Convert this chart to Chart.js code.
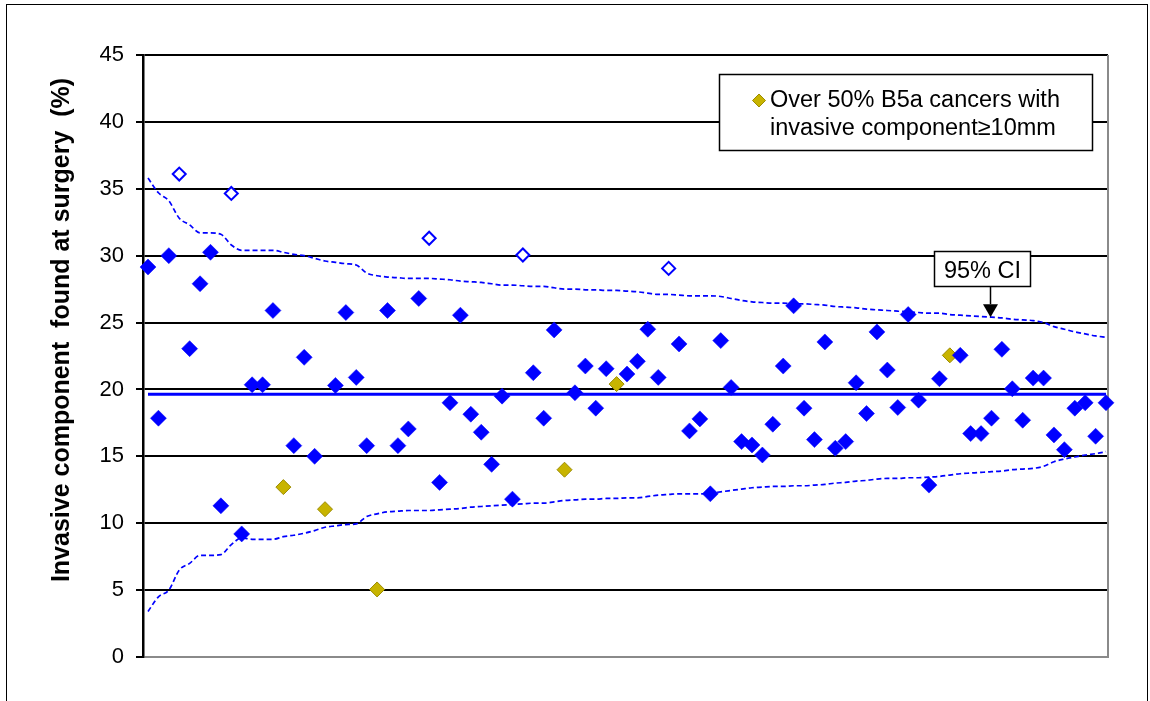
<!DOCTYPE html>
<html>
<head>
<meta charset="utf-8">
<title>Invasive component found at surgery by unit</title>
<script src="https://cdn.jsdelivr.net/npm/chart.js@4/dist/chart.umd.min.js"></script>
<style>
  html, body { margin: 0; padding: 0; background: #fff; overflow: hidden; }
  #wrap { position: relative; width: 1150px; height: 701px; }
  #c { position: absolute; left: 0; top: 0; }
  #frame { position: absolute; left: 6px; top: 4px; width: 1142px; height: 740px;
           border: 1.5px solid #000; box-sizing: border-box; pointer-events: none; }
</style>
</head>
<body>
<div id="wrap">
  <canvas id="c" width="1150" height="701"></canvas>
  <div id="frame"></div>
</div>
<script>
// Percentage of cancers with an invasive component found at surgery, one value per unit
// (units ordered by caseload, smallest first).
const unitRate = [
  29.15, 17.85, 30.0, 36.1, 23.05, 27.9, 30.25, 11.3, 34.65, 9.2,
  20.35, 20.35, 25.9, 12.7, 15.8, 22.4, 15.0, 11.05, 20.3, 25.75,
  20.9, 15.8, 5.05, 25.9, 15.8, 17.05, 26.8, 31.3, 13.05, 19.0,
  25.55, 18.15, 16.8, 14.4, 19.5, 11.8, 30.05, 21.25, 17.85, 24.45,
  14.0, 19.75, 21.75, 18.6, 21.55, 20.4, 21.15, 22.1, 24.5, 20.9,
  29.05, 23.4, 16.9, 17.8, 12.2, 23.65, 20.15, 16.1, 15.85, 15.1,
  17.4, 21.75, 26.25, 18.6, 16.25, 23.55, 15.6, 16.1, 20.5, 18.2,
  24.3, 21.45, 18.65, 25.6, 19.2, 12.85, 20.8, 22.55, 22.55, 16.7,
  16.7, 17.85, 23.0, 20.05, 17.7, 20.85, 20.85, 16.6, 15.5, 18.6,
  19.0, 16.5, 19.0
];

// Upper and lower 95% confidence limits around the overall rate, per unit
const upperCI = [
  35.8, 34.7, 34.1, 32.8, 32.3, 31.7, 31.7, 31.6, 30.8, 30.4,
  30.4, 30.4, 30.4, 30.25, 30.1, 30.0, 29.8, 29.6, 29.5, 29.4,
  29.3, 28.7, 28.5, 28.4, 28.35, 28.3, 28.3, 28.3, 28.25, 28.2,
  28.1, 28.05, 28.0, 27.9, 27.8, 27.8, 27.75, 27.7, 27.7, 27.6,
  27.5, 27.5, 27.45, 27.45, 27.4, 27.4, 27.35, 27.3, 27.2, 27.1,
  27.1, 27.05, 27.0, 27.0, 27.0, 26.95, 26.8, 26.65, 26.55, 26.5,
  26.45, 26.45, 26.4, 26.4, 26.35, 26.3, 26.2, 26.15, 26.1, 26.0,
  25.95, 25.9, 25.85, 25.8, 25.75, 25.7, 25.7, 25.6, 25.55, 25.5,
  25.45, 25.4, 25.35, 25.25, 25.2, 25.15, 25.0, 24.7, 24.5, 24.3,
  24.15, 24.0, 23.9
];
const lowerCI = [
  3.4, 4.5, 5.0, 6.5, 7.0, 7.6, 7.6, 7.65, 8.4, 8.9,
  8.8, 8.8, 8.8, 9.0, 9.1, 9.25, 9.45, 9.7, 9.8, 9.9,
  9.95, 10.5, 10.7, 10.85, 10.9, 10.95, 10.95, 10.95, 11.0, 11.05,
  11.1, 11.2, 11.25, 11.3, 11.35, 11.4, 11.45, 11.5, 11.5, 11.6,
  11.7, 11.75, 11.8, 11.8, 11.85, 11.85, 11.9, 11.9, 12.0, 12.1,
  12.15, 12.2, 12.2, 12.2, 12.25, 12.35, 12.45, 12.55, 12.65, 12.7,
  12.75, 12.75, 12.8, 12.8, 12.85, 12.9, 13.0, 13.05, 13.15, 13.2,
  13.3, 13.35, 13.35, 13.4, 13.4, 13.45, 13.5, 13.6, 13.7, 13.75,
  13.8, 13.85, 13.9, 14.0, 14.05, 14.1, 14.25, 14.6, 14.8, 14.95,
  15.1, 15.2, 15.35
];

// Overall rate across all units
const meanRate = 19.65;

// Units where over half of B5a cancers had an invasive component of 10mm or more
const b5aUnits = [13, 17, 22, 40, 45, 77];
// Units lying above the upper confidence limit (drawn as open diamonds)
const highOutliers = [3, 8, 27, 36, 50];

// Axis and annotation text
const yTicks = [0, 5, 10, 15, 20, 25, 30, 35, 40, 45];
const yTitle = 'Invasive component  found at surgery  (%)';
const legendLines = ['Over 50% B5a cancers with', 'invasive component\u226510mm'];
const ciLabel = '95% CI';
const ciLabelUnit = 81;

// ---- datasets built from the arrays above ----
const idx = unitRate.map((_, i) => i);
const isB5a = i => b5aUnits.includes(i);
const isHigh = i => highOutliers.includes(i);

const regularPts = idx.filter(i => !isB5a(i) && !isHigh(i)).map(i => ({ x: i, y: unitRate[i] }));
const highPts = highOutliers.map(i => ({ x: i, y: unitRate[i] }));
const b5aPts = b5aUnits.map(i => ({ x: i, y: unitRate[i] }));
const upperPts = upperCI.map((v, i) => ({ x: i, y: v }));
const lowerPts = lowerCI.map((v, i) => ({ x: i, y: v }));
const meanPts = [{ x: 0, y: meanRate }, { x: unitRate.length - 1, y: meanRate }];

const FONT = '"Liberation Sans", Arial, Helvetica, sans-serif';
const BLUE = '#0000ff';
const GOLD = '#c8b400';
const GOLD_EDGE = '#9c8c00';

const notesPlugin = {
  id: 'notes',
  beforeDatasetsDraw(chart) {
    const { ctx, chartArea: a } = chart;
    ctx.save();
    ctx.strokeStyle = '#8a8a8a';
    ctx.lineWidth = 2;
    ctx.beginPath();
    ctx.moveTo(a.right, a.top);
    ctx.lineTo(a.right, a.bottom + 1);
    ctx.stroke();
    ctx.restore();
  },
  afterDraw(chart) {
    const { ctx, scales } = chart;
    const xs = scales.x, ys = scales.y;

    // rotated axis title
    ctx.save();
    ctx.translate(62, 330);
    ctx.rotate(-Math.PI / 2);
    ctx.font = 'bold 25px ' + FONT;
    ctx.fillStyle = '#000';
    ctx.textAlign = 'center';
    ctx.textBaseline = 'middle';
    ctx.fillText(yTitle, 0, 0);
    ctx.restore();

    // key box for the B5a marker
    ctx.save();
    ctx.fillStyle = '#fff';
    ctx.strokeStyle = '#000';
    ctx.lineWidth = 1.5;
    ctx.fillRect(719.5, 74.5, 373, 76);
    ctx.strokeRect(719.5, 74.5, 373, 76);
    ctx.beginPath();
    const dx = 759, dy = 100.5, dr = 6.5;
    ctx.moveTo(dx - dr, dy); ctx.lineTo(dx, dy - dr); ctx.lineTo(dx + dr, dy); ctx.lineTo(dx, dy + dr);
    ctx.closePath();
    ctx.fillStyle = GOLD; ctx.fill();
    ctx.strokeStyle = GOLD_EDGE; ctx.lineWidth = 1; ctx.stroke();
    ctx.fillStyle = '#000';
    ctx.font = '23.5px ' + FONT;
    ctx.textAlign = 'left';
    ctx.textBaseline = 'alphabetic';
    ctx.fillText(legendLines[0], 770, 107);
    ctx.fillText(legendLines[1], 770, 135);
    ctx.restore();

    // confidence-limit label with arrow pointing at the upper limit
    const tipX = Math.round(xs.getPixelForValue(ciLabelUnit)) - 0.5;
    const tipY = ys.getPixelForValue(upperCI[ciLabelUnit]);
    const bw = 96, bh = 35;
    const bx = Math.round(tipX - 57) + 0.5, by = Math.round(tipY - 66.5) + 0.5;
    ctx.save();
    ctx.fillStyle = '#fff';
    ctx.strokeStyle = '#000';
    ctx.lineWidth = 1.5;
    ctx.fillRect(bx, by, bw, bh);
    ctx.strokeRect(bx, by, bw, bh);
    ctx.fillStyle = '#000';
    ctx.font = '23.5px ' + FONT;
    ctx.textAlign = 'center';
    ctx.textBaseline = 'alphabetic';
    ctx.fillText(ciLabel, bx + bw / 2, by + 26);
    ctx.beginPath();
    ctx.moveTo(tipX, by + bh);
    ctx.lineTo(tipX, tipY - 13);
    ctx.stroke();
    ctx.beginPath();
    ctx.moveTo(tipX - 7.5, tipY - 13);
    ctx.lineTo(tipX + 7.5, tipY - 13);
    ctx.lineTo(tipX, tipY);
    ctx.closePath();
    ctx.fill();
    ctx.restore();
  }
};

new Chart(document.getElementById('c'), {
  type: 'scatter',
  data: {
    datasets: [
      {
        label: 'Units',
        data: regularPts,
        pointStyle: 'rectRot',
        pointRadius: 8,
        backgroundColor: BLUE,
        borderColor: BLUE,
        borderWidth: 0.5,
        order: 0,
        clip: false
      },
      {
        label: 'Over 50% B5a cancers with invasive component \u226510mm',
        data: b5aPts,
        pointStyle: 'rectRot',
        pointRadius: 7.5,
        backgroundColor: GOLD,
        borderColor: GOLD_EDGE,
        borderWidth: 1,
        order: 0,
        clip: false
      },
      {
        label: 'Above upper limit',
        data: highPts,
        pointStyle: 'rectRot',
        pointRadius: 6.5,
        backgroundColor: '#ffffff',
        borderColor: BLUE,
        borderWidth: 2,
        order: 0,
        clip: false
      },
      {
        label: 'Overall rate',
        type: 'line',
        data: meanPts,
        borderColor: BLUE,
        borderWidth: 3,
        pointRadius: 0,
        showLine: true,
        order: 1
      },
      {
        label: 'Upper 95% CI',
        type: 'line',
        data: upperPts,
        borderColor: BLUE,
        borderWidth: 1.7,
        borderDash: [5, 3],
        pointRadius: 0,
        cubicInterpolationMode: 'monotone',
        showLine: true,
        order: 1
      },
      {
        label: 'Lower 95% CI',
        type: 'line',
        data: lowerPts,
        borderColor: BLUE,
        borderWidth: 1.7,
        borderDash: [5, 3],
        pointRadius: 0,
        cubicInterpolationMode: 'monotone',
        showLine: true,
        order: 1
      }
    ]
  },
  options: {
    responsive: false,
    animation: false,
    devicePixelRatio: 1,
    layout: { padding: { left: 0, top: 55, right: 42, bottom: 44 } },
    plugins: {
      legend: { display: false },
      tooltip: { enabled: false }
    },
    scales: {
      x: {
        type: 'linear',
        display: false,
        min: -0.48,
        max: 92.19
      },
      y: {
        type: 'linear',
        min: 0,
        max: 45,
        afterFit(scale) { scale.width = 143; },
        afterBuildTicks(scale) { scale.ticks = yTicks.map(v => ({ value: v })); },
        ticks: {
          color: '#000',
          padding: 12,
          font: { family: FONT, size: 22 }
        },
        grid: {
          color: c => (c.tick && c.tick.value === 0 ? '#8a8a8a' : '#000'),
          lineWidth: 2,
          tickColor: '#000',
          tickLength: 7,
          drawTicks: true
        },
        border: { display: true, color: '#000', width: 2.5 }
      }
    }
  },
  plugins: [notesPlugin]
});
</script>
</body>
</html>
